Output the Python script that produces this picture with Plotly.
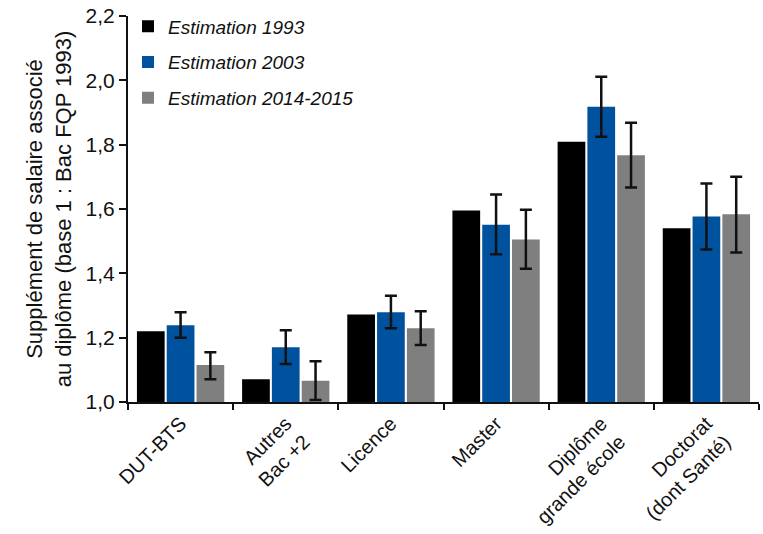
import plotly.graph_objects as go

categories = ["DUT-BTS", "Autres<br>Bac +2", "Licence", "Master", "Diplôme<br>grande école", "Doctorat<br>(dont Santé)"]
series_names = ["Estimation 1993", "Estimation 2003", "Estimation 2014-2015"]

v1993 = [1.22, 1.071, 1.272, 1.595, 1.809, 1.54]
v2003 = [1.239, 1.17, 1.279, 1.551, 1.918, 1.577]
v2015 = [1.115, 1.066, 1.229, 1.505, 1.767, 1.584]

err2003_up = [0.040, 0.053, 0.051, 0.094, 0.093, 0.102]
err2003_dn = [0.039, 0.052, 0.050, 0.092, 0.093, 0.103]
err2015_up = [0.040, 0.061, 0.053, 0.093, 0.101, 0.116]
err2015_dn = [0.044, 0.060, 0.052, 0.091, 0.100, 0.119]

y_ticks = [1.0, 1.2, 1.4, 1.6, 1.8, 2.0, 2.2]
y_ticklabels = ["1,0", "1,2", "1,4", "1,6", "1,8", "2,0", "2,2"]

colors = ["#000000", "#00519e", "#7f7f7f"]
FONT = "Liberation Sans, Arial, sans-serif"

fig = go.Figure()
fig.add_trace(go.Bar(x=categories, y=v1993, name="<i>" + series_names[0] + "</i>", legendgroup="a",
                     marker=dict(color=colors[0], line=dict(width=0))))
fig.add_trace(go.Bar(x=categories, y=v2003, name="<i>" + series_names[1] + "</i>", legendgroup="b",
                     marker=dict(color=colors[1], line=dict(width=0)),
                     error_y=dict(type="data", symmetric=False, array=err2003_up, arrayminus=err2003_dn,
                                  color="#111111", thickness=2.5, width=6)))
fig.add_trace(go.Bar(x=categories, y=v2015, name="<i>" + series_names[2] + "</i>", legendgroup="c",
                     marker=dict(color=colors[2], line=dict(width=0)),
                     error_y=dict(type="data", symmetric=False, array=err2015_up, arrayminus=err2015_dn,
                                  color="#111111", thickness=2.5, width=6)))

fig.update_layout(
    width=763, height=534,
    margin=dict(l=128, r=4, t=16, b=132, autoexpand=False),
    paper_bgcolor="white", plot_bgcolor="white",
    barmode="group", bargap=0.15, bargroupgap=0.07,
    font=dict(family=FONT, size=19, color="#111111"),
    showlegend=True,
    legend=dict(x=0.0, y=1.022, xanchor="left", yanchor="top",
                bgcolor="rgba(0,0,0,0)", font=dict(size=19, family=FONT),
                itemsizing="constant", tracegroupgap=8, itemwidth=30),
    xaxis=dict(type="category", showline=True, linecolor="#111111", linewidth=2,
               ticks="outside", tickson="boundaries", ticklen=6, tickwidth=2, tickcolor="#111111",
               tickangle=-45, tickfont=dict(size=20, family=FONT), showgrid=False),
    yaxis=dict(range=[1.0, 2.2001], tickmode="array", tickvals=y_ticks, ticktext=y_ticklabels,
               ticklabeloverflow="allow", showline=True, linecolor="#111111",
               linewidth=2, ticks="outside", ticklen=7, tickwidth=2, tickcolor="#111111",
               showgrid=False, zeroline=False, tickfont=dict(size=21, family=FONT),
               title=dict(text="Supplément de salaire associé<br>au diplôme (base 1 : Bac FQP 1993)",
                          font=dict(size=22, family=FONT), standoff=8)),
)

fig.write_html("out.html", config={"displayModeBar": False},
               post_script="document.body.style.margin='0px';document.body.style.overflow='hidden';")
